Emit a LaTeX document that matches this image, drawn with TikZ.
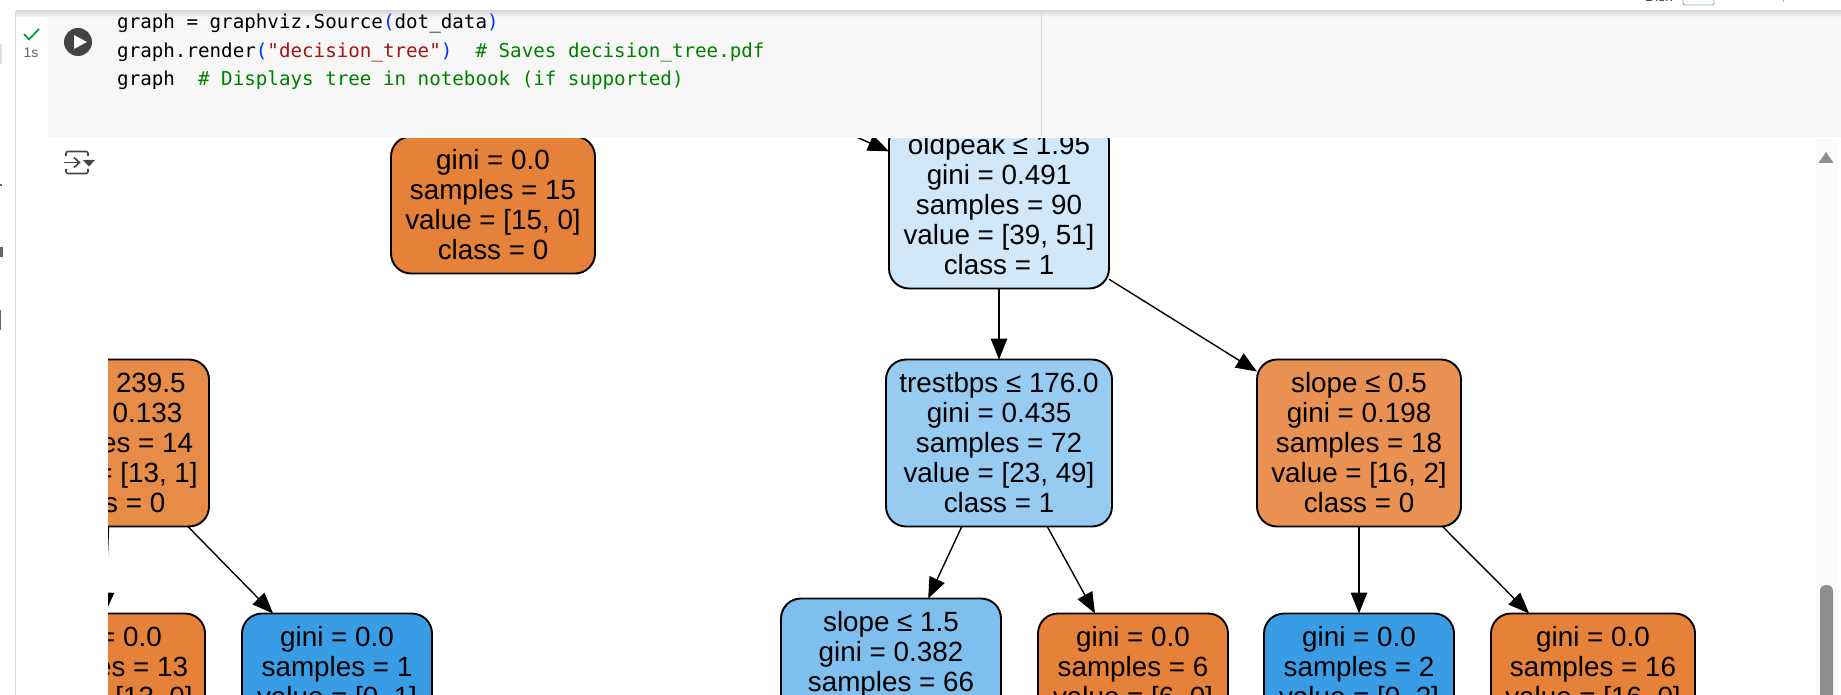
\documentclass[tikz,border=0pt]{standalone}
\usepackage{fontspec}
\setmainfont{Liberation Sans}
\newfontfamily\codefont{DejaVu Sans Mono}
\usepackage{tikz}
\usetikzlibrary{arrows.meta,positioning}
\definecolor{leaforange}{HTML}{E58139}
\definecolor{leafblue}{HTML}{399DE5}
\definecolor{cellgray}{HTML}{F7F7F7}
\definecolor{rulegray}{HTML}{D9D9D9}
\definecolor{icongray}{HTML}{444444}
\definecolor{bargray}{HTML}{8E8E8E}
\definecolor{pyblue}{HTML}{0431FA}
\definecolor{pyred}{HTML}{A31515}
\definecolor{pygreen}{HTML}{008000}
\newcommand{\pyparen}[1]{\textcolor{pyblue}{#1}}

\begin{document}
\begin{tikzpicture}[x=1pt,y=-1pt,>={Triangle[length=21pt,width=16.5pt]},
      main node/.style={rectangle,rounded corners=20pt,draw,line width=1.9pt,inner sep=0pt,outer sep=0pt,
        align=center,font=\fontsize{27.8}{30}\selectfont},
      split node/.style={main node,minimum height=167pt},
      leaf node/.style={main node,minimum height=137pt},
      code line/.style={anchor=base west,inner sep=0pt,font=\codefont\fontsize{19.2}{23}\selectfont}]
      \useasboundingbox (0,0) rectangle (1841,695);
      \fill[white] (0,0) rectangle (1841,695);

      % tree, cut by the output area
      \begin{scope}
      \clip (108,139) rectangle (1812,695);
      \node[split node,minimum width=220pt,fill={rgb,255:red,208;green,232;blue,249}] (oldpeak) at (999,205)
        {oldpeak ≤ 1.95\\gini = 0.491\\samples = 90\\value = [39, 51]\\class = 1};
      \node[split node,minimum width=226pt,fill={rgb,255:red,151;green,203;blue,241}] (trestbps) [below=71pt of oldpeak]
        {trestbps ≤ 176.0\\gini = 0.435\\samples = 72\\value = [23, 49]\\class = 1};
      \node[split node,minimum width=204pt,fill={rgb,255:red,232;green,145;blue,82}] (slopea) [right=145pt of trestbps]
        {slope ≤ 0.5\\gini = 0.198\\samples = 18\\value = [16, 2]\\class = 0};
      \node[split node,minimum width=220pt,fill={rgb,255:red,126;green,191;blue,238}] (slopeb) [below=72pt of trestbps,xshift=-108pt]
        {slope ≤ 1.5\\gini = 0.382\\samples = 66\\value = [17, 49]\\class = 1};
      \node[leaf node,minimum width=190pt,fill=leaforange] (six) [below=87pt of trestbps,xshift=134pt]
        {gini = 0.0\\samples = 6\\value = [6, 0]\\class = 0};
      \node[leaf node,minimum width=190pt,fill=leafblue] (two) [below=87pt of slopea]
        {gini = 0.0\\samples = 2\\value = [0, 2]\\class = 1};
      \node[leaf node,minimum width=204pt,fill=leaforange] (sixteen) [below=87pt of slopea,xshift=234pt]
        {gini = 0.0\\samples = 16\\value = [16, 0]\\class = 0};
      \node[leaf node,minimum width=204pt,fill=leaforange] (fifteen) [left=294pt of oldpeak]
        {gini = 0.0\\samples = 15\\value = [15, 0]\\class = 0};
      \node[split node,minimum width=198pt,fill={rgb,255:red,231;green,139;blue,72}] (chol) [left=677pt of trestbps]
        {chol ≤ 239.5\\gini = 0.133\\samples = 14\\value = [13, 1]\\class = 0};
      \node[leaf node,minimum width=200pt,fill=leaforange] (thirteen) [below=87pt of chol,xshift=-5pt]
        {gini = 0.0\\samples = 13\\value = [13, 0]\\class = 0};
      \node[leaf node,minimum width=190pt,fill=leafblue] (one) [below=87pt of chol,xshift=227pt]
        {gini = 0.0\\samples = 1\\value = [0, 1]\\class = 1};
      \coordinate (feed) at (829,125);

      \path[->,line width=1.4pt]
        (feed) edge (oldpeak.154.7)
        (oldpeak.south) edge (trestbps.north)
        (oldpeak.-34) edge (slopea.145.6)
        (trestbps.-114.5) edge (slopeb.66.1)
        (trestbps.-60.6) edge (six.119)
        (slopea.south) edge (two.north)
        (slopea.-45.9) edge (sixteen.133.9)
        (chol.-91) edge (thirteen.north)
        (chol.-47.3) edge (one.133);
      \end{scope}

      % notebook cell
      \shade[top color=rulegray,bottom color=cellgray] (16,11) rectangle (1841,17);
      \fill[cellgray] (48,17) rectangle (1841,137);
      \fill[white] (16,17) rectangle (48,137);
      \draw[rulegray,line width=1.2pt] (15.5,11) -- (15.5,695);
      \draw[rulegray,line width=1pt] (1041.5,11) -- (1041.5,137);
      \node[code line] (codea) at (117,29)
        {graph = graphviz.Source\pyparen{(}dot\_data\pyparen{)}};
      \node[code line] (codeb) at (117,58)
        {graph.render\pyparen{(}\textcolor{pyred}{"decision\_tree"}\pyparen{)}\ \ \textcolor{pygreen}{\# Saves decision\_tree.pdf}};
      \node[code line] (codec) at (117,86)
        {graph\ \ \textcolor{pygreen}{\# Displays tree in notebook (if supported)}};

      % run button and gutter
      \fill[icongray] (78,42) circle (14);
      \fill[white] (74,35) -- (87,42) -- (74,49) -- cycle;
      \draw[pygreen!80!cyan,line width=1.7pt] (24,34) -- (29,39.5) -- (39,29);
      \node[inner sep=0pt,text=black!60,font=\fontsize{14}{16}\selectfont] (runtime) at (31,53) {1s};

      % output toggle
      \draw[icongray,line width=1.6pt,rounded corners=2pt] (66,156) -- (66,151.5) -- (88,151.5) -- (88,156);
      \draw[icongray,line width=1.6pt,rounded corners=2pt] (66,169) -- (66,173.5) -- (88,173.5) -- (88,169);
      \draw[icongray,line width=1.6pt] (63.5,162.5) -- (79,162.5);
      \draw[icongray,line width=1.6pt] (74,157.5) -- (79.5,162.5) -- (74,167.5);
      \fill[icongray] (83,160) -- (95,160) -- (89,166.5) -- cycle;

      % scrollbar
      \fill[black!1] (1815,139) rectangle (1838,695);
      \fill[bargray] (1818.5,163) -- (1826,152) -- (1833.5,163) -- cycle;
      \fill[bargray,rounded corners=6pt] (1820,695) -- (1820,585) -- (1833,585) -- (1833,695);

      % cut off bits of the page around the cell
      \begin{scope}
      \clip (0,0) rectangle (1841,11);
      \node[anchor=base west,inner sep=0pt,text=black!75,font=\fontsize{14}{16}\selectfont] (disk) at (1645,2) {Disk};
      \draw[black!35,fill=green!4,line width=.8pt,rounded corners=1.5pt] (1683,-6) rectangle (1714,5);
      \fill[black!30] (1782.5,0) rectangle (1784,2);
      \end{scope}
      \fill[black!12] (0,44) rectangle (2,64);
      \fill[black!60] (0,184.5) rectangle (2,186);
      \fill[black!60] (0,247) rectangle (3,257);
      \fill[black!60] (0,310) rectangle (1,330);
    \end{tikzpicture}
\end{document}
